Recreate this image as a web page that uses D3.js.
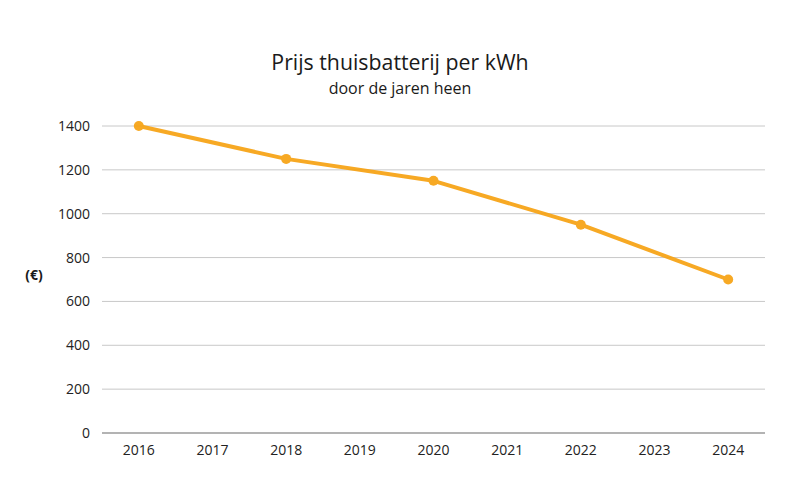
<!DOCTYPE html>
<html><head><meta charset="utf-8">
<script src="https://cdn.jsdelivr.net/npm/d3@7"></script>
<style>body{margin:0;background:#fff;} text{font-family:"Open Sans",sans-serif;}</style>
</head><body><svg id="c" width="800" height="500"></svg>
<script>
const years = ["2016","2017","2018","2019","2020","2021","2022","2023","2024"];
const pointYears = ["2016","2018","2020","2022","2024"];
const prices = [1400, 1250, 1150, 950, 700];
const yTicks = [0,200,400,600,800,1000,1200,1400];
const title = "Prijs thuisbatterij per kWh";
const subtitle = "door de jaren heen";
const yLabel = "(€)";

const svg = d3.select("#c");
const x = d3.scalePoint().domain(years).range([102, 765]).padding(0.5);
const y = d3.scaleLinear().domain([0,1400]).range([433,126]);
const data = pointYears.map((yr,i)=>({yr, v:prices[i]}));

svg.append("text").attr("x",400).attr("y",70).attr("text-anchor","middle").attr("font-size",21.3).attr("fill","#1a1a1a").text(title);
svg.append("text").attr("x",400).attr("y",94).attr("text-anchor","middle").attr("font-size",16).attr("fill","#1a1a1a").text(subtitle);

svg.append("g").selectAll("line").data(yTicks.filter(t=>t>0)).join("line")
  .attr("x1",102).attr("x2",765).attr("y1",d=>y(d)).attr("y2",d=>y(d))
  .attr("stroke","#c8c8c8").attr("stroke-width",1);
svg.append("line").attr("x1",102).attr("x2",765).attr("y1",y(0)).attr("y2",y(0)).attr("stroke","#9a9a9a").attr("stroke-width",1.5);

svg.append("g").selectAll("text").data(yTicks).join("text")
  .attr("x",90).attr("y",d=>y(d)+5).attr("text-anchor","end").attr("font-size",14).attr("fill","#222").text(d=>d);
svg.append("g").selectAll("text").data(years).join("text")
  .attr("x",d=>x(d)).attr("y",455).attr("text-anchor","middle").attr("font-size",14).attr("fill","#222").text(d=>d);
svg.append("text").attr("x",34).attr("y",280).attr("text-anchor","middle").attr("font-size",14).attr("font-weight","bold").attr("fill","#1a1a1a").text(yLabel);

const g = svg.append("g").attr("opacity",0.92);
g.append("path").datum(data).attr("fill","none").attr("stroke","#f7a212").attr("stroke-width",4)
  .attr("stroke-linejoin","round")
  .attr("d",d3.line().x(d=>x(d.yr)).y(d=>y(d.v)));
g.selectAll("circle").data(data).join("circle").attr("cx",d=>x(d.yr)).attr("cy",d=>y(d.v)).attr("r",5).attr("fill","#f7a212");
</script></body></html>
